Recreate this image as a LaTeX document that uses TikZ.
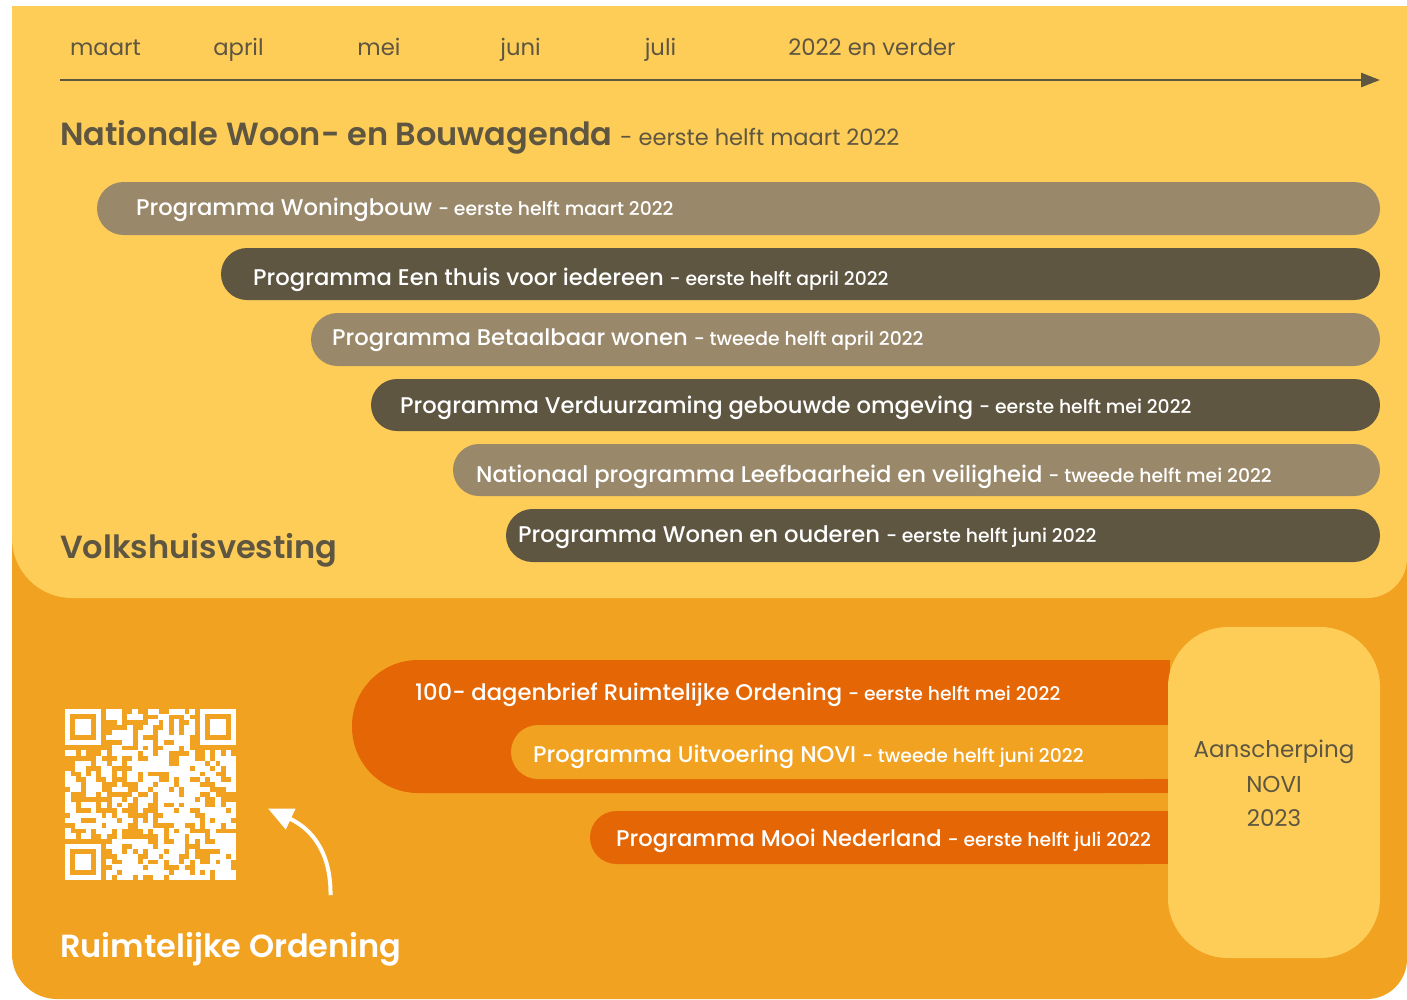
\documentclass[tikz,border=0pt]{standalone}
\usepackage{fontspec}
\setmainfont{Poppins}
\newfontfamily\pmed{Poppins Medium}
\newfontfamily\psemi{Poppins SemiBold}
\usetikzlibrary{arrows.meta}
\definecolor{ylw}{HTML}{FDCD58}
\definecolor{org}{HTML}{F2A221}
\definecolor{dorg}{HTML}{E56604}
\definecolor{tanc}{HTML}{9A886A}
\definecolor{drk}{HTML}{5E5641}
\newcommand\bardate[1]{{\pmed\fontsize{18.8}{22}\selectfont #1}}
\begin{document}
\begin{tikzpicture}[x=1pt,y=-1pt,
  month/.style={anchor=base, inner sep=0pt, text=drk, font=\fontsize{22.7}{27}\selectfont},
  barlbl/.style={anchor=base west, inner sep=0pt, text=white, font=\pmed\fontsize{22.7}{27}\selectfont},
  heading/.style={anchor=base west, inner sep=0pt, font=\psemi\fontsize{32}{38}\selectfont},
  novitxt/.style={anchor=base, inner sep=0pt, text=drk, font=\fontsize{23}{27}\selectfont}]
\useasboundingbox (0,0) rectangle (1407,999);
% panels
\fill[org] (12,540) -- (1407,540) -- (1407,959) arc[start angle=0,end angle=90,radius=40] -- (57,999) arc[start angle=90,end angle=180,radius=45] -- cycle;
\fill[ylw] (12,6) -- (1407,6) -- (1407,558) arc[start angle=0,end angle=90,radius=40] -- (72,598) arc[start angle=90,end angle=180,radius=60] -- cycle;
% timeline
\node[month] (m1) at (105.5,55) {maart};
\node[month] (m2) at (238.5,55) {april};
\node[month] (m3) at (379,55) {mei};
\node[month] (m4) at (520.5,55) {juni};
\node[month] (m5) at (660.5,55) {juli};
\node[month] (m6) at (872,55) {2022 en verder};
\coordinate (tl0) at (60,80);
\coordinate (tl1) at (1380,80);
\draw[drk, line width=2.6pt, -{Triangle[length=19pt,width=14pt]}] (tl0) -- (tl1);
% title
\node[heading, text=drk] (nwb) at (60,145) {Nationale Woon- en Bouwagenda};
\node[anchor=base west, inner sep=0pt, text=drk, font=\fontsize{22.5}{27}\selectfont] (nwbd) at (620,145) {- eerste helft maart 2022};
% bars Volkshuisvesting
\fill[tanc, rounded corners=26.5pt] (97,182) rectangle (1380,235);
\node[barlbl] (b1) at (136,215) {Programma Woningbouw \bardate{- eerste helft maart 2022}};
\fill[drk, rounded corners=26pt] (221,248) rectangle (1380,300);
\node[barlbl] (b2) at (253,285) {Programma Een thuis voor iedereen \bardate{- eerste helft april 2022}};
\fill[tanc, rounded corners=26.5pt] (311,313) rectangle (1380,366);
\node[barlbl] (b3) at (332,345) {Programma Betaalbaar wonen \bardate{- tweede helft april 2022}};
\fill[drk, rounded corners=26pt] (371,379) rectangle (1380,431);
\node[barlbl] (b4) at (400,413) {Programma Verduurzaming gebouwde omgeving \bardate{- eerste helft mei 2022}};
\fill[tanc, rounded corners=26pt] (453,444) rectangle (1380,496);
\node[barlbl] (b5) at (476,482) {Nationaal programma Leefbaarheid en veiligheid \bardate{- tweede helft mei 2022}};
\fill[drk, rounded corners=26.5pt] (506,509) rectangle (1380,562);
\node[barlbl] (b6) at (518,542) {Programma Wonen en ouderen \bardate{- eerste helft juni 2022}};
\node[heading, text=drk] (vh) at (60,558) {Volkshuisvesting};
% Ruimtelijke Ordening bars
\fill[dorg, rounded corners=66pt] (352,660) rectangle (1170,793);
\fill[dorg] (1100,660) rectangle (1170,793);
\node[barlbl] (r1) at (415,700) {100- dagenbrief Ruimtelijke Ordening \bardate{- eerste helft mei 2022}};
\fill[org, rounded corners=27pt] (511,725) rectangle (1170,779);
\fill[org] (1120,725) rectangle (1170,779);
\node[barlbl] (r2) at (533,762) {Programma Uitvoering NOVI \bardate{- tweede helft juni 2022}};
\fill[dorg, rounded corners=26.5pt] (590,811) rectangle (1170,864);
\fill[dorg] (1120,811) rectangle (1170,864);
\node[barlbl] (r3) at (616,846) {Programma Mooi Nederland \bardate{- eerste helft juli 2022}};
% NOVI box
\fill[ylw, rounded corners=60pt] (1168,627) rectangle (1380,958);
\node[novitxt] (n1) at (1274,757) {Aanscherping};
\node[novitxt] (n2) at (1274,792) {NOVI};
\node[novitxt] (n3) at (1274,826) {2023};
% QR code
\def\qm{5.1818}
\pgfmathsetseed{20220}
\foreach \i in {0,...,32}{
  \foreach \j in {0,...,32}{
    \pgfmathrandominteger{\qr}{0}{99}
    \pgfmathtruncatemacro{\qskip}{((\i<8)&&(\j<8)) || ((\i>24)&&(\j<8)) || ((\i<8)&&(\j>24)) ? 1 : 0}
    \ifnum\qskip=0 \ifnum\qr<58 \fill[white] (65+\i*\qm,709+\j*\qm) rectangle ++(5.5,5.5); \fi\fi
  }
}
\foreach \fx/\fy in {0/0,26/0,0/26}{
  \fill[white] (65+\fx*\qm,709+\fy*\qm) rectangle ++(7*\qm,7*\qm);
  \fill[org] (65+\fx*\qm+\qm,709+\fy*\qm+\qm) rectangle ++(5*\qm,5*\qm);
  \fill[white] (65+\fx*\qm+2*\qm,709+\fy*\qm+2*\qm) rectangle ++(3*\qm,3*\qm);
}
% arrow
\coordinate (arrS) at (330.5,895);
\coordinate (arrE) at (268,808.5);
\draw[white, line width=4pt, -{Triangle[length=25pt,width=22pt]}] (arrS) .. controls (331,855) and (314,830) .. (arrE);
\node[heading, text=white] (ro) at (60,957) {Ruimtelijke Ordening};
\end{tikzpicture}
\end{document}
